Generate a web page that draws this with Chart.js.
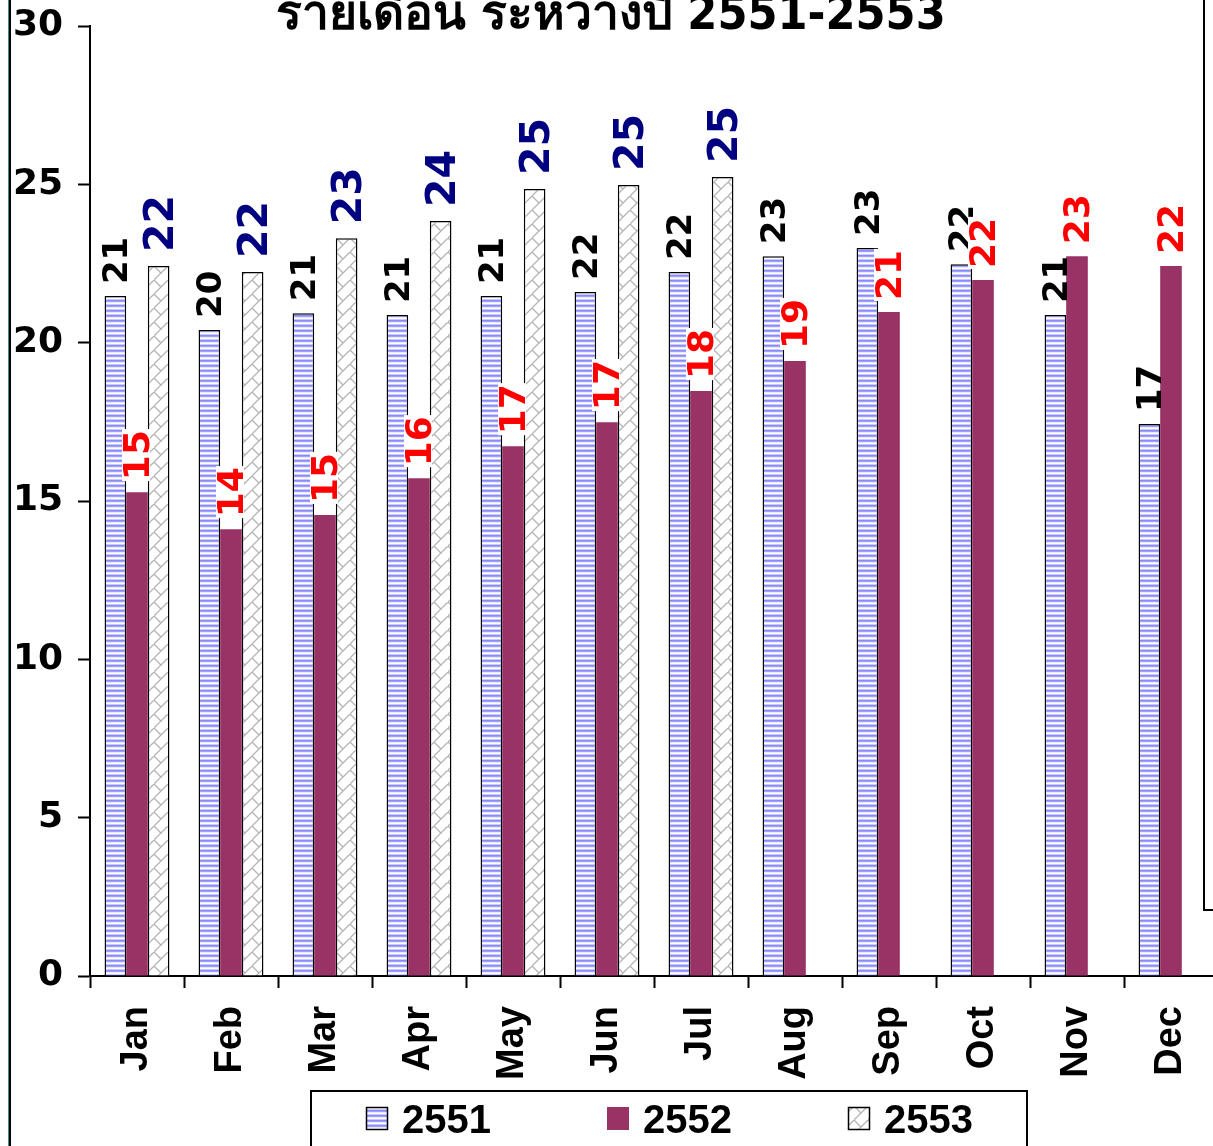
<!DOCTYPE html>
<html>
<head>
<meta charset="utf-8">
<title>รายเดือน ระหว่างปี 2551-2553</title>
<script src="https://cdn.jsdelivr.net/npm/chart.js@4.4.1/dist/chart.umd.min.js"></script>
<style>
  html, body { margin: 0; padding: 0; background: #fff; overflow: hidden; }
  canvas { display: block; }
</style>
</head>
<body>
<canvas id="myChart" width="1219" height="1146"></canvas>
<script>
// data
const titleText = 'รายเดือน ระหว่างปี 2551-2553';
const months = ['Jan', 'Feb', 'Mar', 'Apr', 'May', 'Jun', 'Jul', 'Aug', 'Sep', 'Oct', 'Nov', 'Dec'];
const years = ['2551', '2552', '2553'];
const values2551 = [21.47, 20.4, 20.93, 20.87, 21.47, 21.6, 22.23, 22.73, 22.99, 22.48, 20.87, 17.43];
const values2552 = [15.28, 14.11, 14.56, 15.72, 16.73, 17.49, 18.47, 19.42, 20.97, 21.98, 22.73, 22.42];
const values2553 = [22.42, 22.23, 23.3, 23.84, 24.85, 24.98, 25.23, null, null, null, null, null];
const yTicks = [0, 5, 10, 15, 20, 25, 30];

const labelColors = ['#000000', '#ff0000', '#000080'];
const labelSizes = [34, 36, 41];

// fill patterns
function stripePattern() {
  const c = document.createElement('canvas');
  c.width = 4; c.height = 5;
  const g = c.getContext('2d');
  const rows = ['#8a8aff', '#a0a0ff', '#e8e8ff', '#ffffff', '#cacaff'];
  rows.forEach((col, i) => { g.fillStyle = col; g.fillRect(0, i, 4, 1); });
  return g.createPattern(c, 'repeat');
}

function hatchPattern() {
  const c = document.createElement('canvas');
  c.width = 14; c.height = 14;
  const g = c.getContext('2d');
  g.fillStyle = '#ffffff';
  g.fillRect(0, 0, 14, 14);
  g.strokeStyle = '#b4b4b4';
  g.lineWidth = 1.3;
  g.beginPath();
  g.moveTo(-1, 15); g.lineTo(15, -1);
  g.moveTo(0, 0); g.lineTo(7, 7);
  g.stroke();
  return g.createPattern(c, 'repeat');
}

const fills = [stripePattern(), '#993366', hatchPattern()];

// rotated value labels on top of the bars
const valueLabels = {
  id: 'valueLabels',
  afterDatasetsDraw(chart) {
    const ctx = chart.ctx;
    chart.data.datasets.forEach((ds, i) => {
      const meta = chart.getDatasetMeta(i);
      ctx.save();
      ctx.font = 'bold ' + labelSizes[i] + 'px "DejaVu Sans"';
      meta.data.forEach((bar, j) => {
        const v = ds.data[j];
        if (v === null) return;
        const txt = String(Math.round(v));
        const m = ctx.measureText(txt);
        const capH = m.actualBoundingBoxAscent;
        const w = m.width;
        ctx.save();
        ctx.translate(bar.x, bar.y - (i === 2 ? 14 : 12));
        ctx.rotate(-Math.PI / 2);
        const b = capH / 2 - 1;
        if (i === 1) {
          ctx.fillStyle = '#ffffff';
          ctx.fillRect(-1, b - capH - 1, w + 2, capH + 2);
        }
        ctx.fillStyle = labelColors[i];
        ctx.textAlign = 'left';
        ctx.textBaseline = 'alphabetic';
        ctx.fillText(txt, 0, b);
        ctx.restore();
      });
      ctx.restore();
    });
  }
};

// title, legend and the frame lines of the slide
const decor = {
  id: 'decor',
  afterDraw(chart) {
    const ctx = chart.ctx;
    ctx.save();
    ctx.fillStyle = '#000';
    ctx.font = 'bold 48px "DejaVu Sans Condensed", "DejaVu Sans", sans-serif';
    ctx.textAlign = 'center';
    ctx.textBaseline = 'alphabetic';
    ctx.fillText(titleText, 611, 29);

    // frame lines
    ctx.fillStyle = '#3b8f8f';
    ctx.fillRect(8, 0, 1, 1146);
    ctx.fillStyle = '#000';
    ctx.fillRect(9, 0, 2, 1146);
    ctx.fillRect(1203, 0, 2, 911);
    ctx.fillRect(1203, 909, 16, 2);

    // legend
    ctx.lineWidth = 2;
    ctx.strokeStyle = '#000';
    ctx.strokeRect(311, 1091, 716, 80);
    const xs = [366, 607, 848];
    chart.data.datasets.forEach((ds, i) => {
      ctx.fillStyle = ds.backgroundColor;
      ctx.fillRect(xs[i], 1107, 22, 23);
      if (ds.borderWidth > 0) {
        ctx.lineWidth = 1.5;
        ctx.strokeRect(xs[i] + 0.5, 1107.5, 21, 22);
      }
      ctx.fillStyle = '#000';
      ctx.font = 'bold 40px "Liberation Sans", Arial, sans-serif';
      ctx.textAlign = 'left';
      ctx.fillText(ds.label, xs[i] + 36, 1133);
    });
    ctx.restore();
  }
};

const ctx = document.getElementById('myChart');

new Chart(ctx, {
  type: 'bar',
  data: {
    labels: months,
    datasets: [
      { label: years[0], data: values2551, backgroundColor: fills[0], borderColor: '#000', borderWidth: 1.5 },
      { label: years[1], data: values2552, backgroundColor: fills[1], borderColor: '#000', borderWidth: 0 },
      { label: years[2], data: values2553, backgroundColor: fills[2], borderColor: '#000', borderWidth: 1.5 }
    ]
  },
  options: {
    responsive: false,
    devicePixelRatio: 1,
    animation: false,
    categoryPercentage: 0.69,
    barPercentage: 1.0,
    layout: { padding: { left: 10, right: 1, top: 26, bottom: 0 } },
    plugins: {
      legend: { display: false },
      title: { display: false },
      tooltip: { enabled: false }
    },
    scales: {
      x: {
        grid: { drawOnChartArea: false, drawTicks: true, tickLength: 12, tickWidth: 2, color: '#000', offset: true },
        border: { display: true, color: '#000', width: 2 },
        ticks: {
          color: '#000',
          minRotation: 90,
          maxRotation: 90,
          padding: 18,
          font: { family: '"Liberation Sans", Arial, sans-serif', size: 38, weight: 'bold' }
        },
        afterFit(scale) {
          scale.height = 170;
          scale.paddingLeft = 0;
          scale.paddingRight = 0;
        }
      },
      y: {
        min: 0,
        max: 30,
        afterBuildTicks(scale) { scale.ticks = yTicks.map(v => ({ value: v })); },
        grid: { drawOnChartArea: false, drawTicks: true, tickLength: 12, tickWidth: 2, color: '#000' },
        border: { display: true, color: '#000', width: 2 },
        ticks: {
          color: '#000',
          padding: 15,
          font: { family: '"DejaVu Sans", sans-serif', size: 36, weight: 'bold' }
        },
        afterFit(scale) {
          scale.width = 80;
          scale.paddingTop = 0;
          scale.paddingBottom = 0;
        }
      }
    }
  },
  plugins: [valueLabels, decor]
});
</script>
</body>
</html>
